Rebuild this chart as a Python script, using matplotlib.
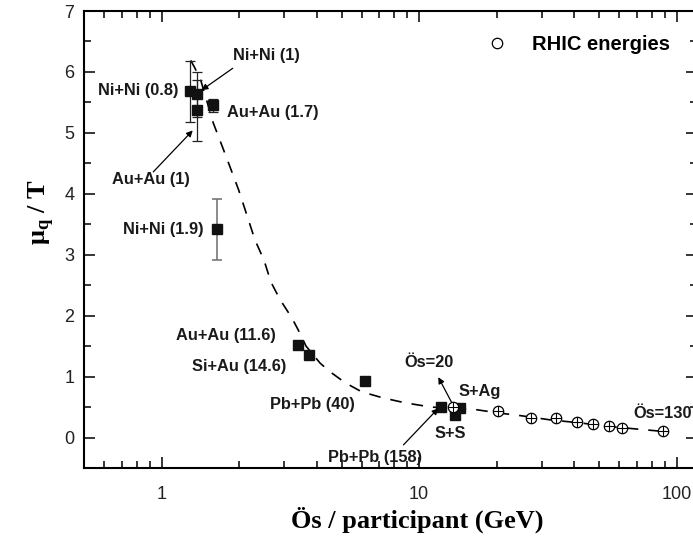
import numpy as np
import matplotlib
matplotlib.use('Agg')
import matplotlib.pyplot as plt
from matplotlib.ticker import MultipleLocator, FixedLocator, NullFormatter

# beam-energy points with error bars (SIS / AGS low energies)
low_x = [1.29, 1.37, 1.37, 1.58, 1.64]
low_y = [5.68, 5.63, 5.37, 5.45, 3.42]
low_err = [0.50, 0.37, 0.50, 0.11, 0.50]

# AGS / SPS points
high_x = [3.40, 3.73, 6.17, 12.2, 13.8, 14.4]
high_y = [1.52, 1.36, 0.93, 0.50, 0.37, 0.48]

# RHIC energies
rhic_x = [13.6, 20.2, 27.2, 34.1, 41.2, 47.5, 54.6, 61.6, 88.4]
rhic_y = [0.50, 0.44, 0.32, 0.32, 0.26, 0.22, 0.19, 0.16, 0.11]

# guide curve
fit_x = [1.298, 1.349, 1.423, 1.589, 1.713, 1.845, 1.994, 2.307, 2.50, 2.66,
         2.89, 3.21, 3.39, 3.64, 4.13, 4.51, 5.16, 5.99, 7.25, 8.82, 11.13,
         16.5, 20.6, 24.7, 32.3, 42.2, 55.2, 74.1, 88.6]
fit_y = [6.19, 6.06, 5.85, 5.16, 4.80, 4.44, 4.06, 3.24, 2.91, 2.55,
         2.26, 1.96, 1.77, 1.50, 1.22, 1.08, 0.90, 0.75, 0.65, 0.57, 0.50,
         0.46, 0.40, 0.36, 0.29, 0.24, 0.18, 0.13, 0.10]

sans = 'Liberation Sans'
serif = 'Liberation Serif'

fig = plt.figure(figsize=(6.93, 5.44), dpi=100)
ax = fig.add_axes([84 / 693, 76 / 544, 613 / 693, 457 / 544])

line, = ax.plot(fit_x, fit_y, color='black', lw=1.2, zorder=1)
line.set_dashes((7, 6))

ax.errorbar(low_x[:4], low_y[:4], yerr=low_err[:4], fmt='none', ecolor='#222222',
            elinewidth=0.9, capsize=3.5, capthick=0.9, zorder=2)
ax.errorbar(low_x[4:], low_y[4:], yerr=low_err[4:], fmt='none', ecolor='#777777',
            elinewidth=1.2, capsize=3.5, capthick=1.2, zorder=2)
ax.plot(low_x + high_x, low_y + high_y, 's', color='#111111', ms=7.2,
        ls='none', zorder=3)

ax.plot(rhic_x, rhic_y, 'o', mfc='white', mec='black', mew=0.9, ms=7.5,
        ls='none', zorder=4, label='RHIC energies')
ax.plot(rhic_x, rhic_y, '+', color='black', mew=0.8, ms=7.5, ls='none', zorder=5)

lab = dict(fontfamily=sans, fontweight='bold', fontsize=11.8, color='#1a1a1a')
ax.text(1.16, 5.70, 'Ni+Ni (0.8)', ha='right', va='center', **lab)
ax.text(1.90, 6.27, 'Ni+Ni (1)', ha='left', va='center', **lab)
ax.text(1.79, 5.33, 'Au+Au (1.7)', ha='left', va='center', **lab)
ax.text(0.91, 4.24, 'Au+Au (1)', ha='center', va='center', **lab)
ax.text(1.453, 3.42, 'Ni+Ni (1.9)', ha='right', va='center', **lab)
ax.text(2.79, 1.67, 'Au+Au (11.6)', ha='right', va='center', **lab)
ax.text(3.06, 1.16, 'Si+Au (14.6)', ha='right', va='center', **lab)
ax.text(5.64, 0.54, 'Pb+Pb (40)', ha='right', va='center', **lab)
ax.text(6.72, -0.33, 'Pb+Pb (158)', ha='center', va='center', **lab)
ax.text(10.94, 1.23, 'Ös=20', ha='center', va='center', **lab)
ax.text(14.18, 0.75, 'S+Ag', ha='left', va='center', **lab)
ax.text(13.2, 0.07, 'S+S', ha='center', va='center', **lab)
ax.text(67.8, 0.40, 'Ös=130', ha='left', va='center', **lab)

arrow = dict(arrowstyle='-|>', color='black', lw=0.9, mutation_scale=9,
             shrinkA=0, shrinkB=0)
for tail, head in [((1.89, 6.06), (1.43, 5.70)),
                   ((0.929, 4.36), (1.322, 5.04)),
                   ((8.7, -0.12), (11.88, 0.48)),
                   ((13.6, 0.52), (11.88, 0.99))]:
    ax.annotate('', xy=head, xytext=tail, arrowprops=arrow)

ax.set_xscale('log')
ax.set_xlim(0.5, 120)
ax.set_ylim(-0.5, 7)
ax.xaxis.set_major_locator(FixedLocator([1, 10, 100]))
ax.xaxis.set_major_formatter(matplotlib.ticker.FixedFormatter(['1', '10', '100']))
ax.xaxis.set_minor_locator(matplotlib.ticker.LogLocator(base=10, subs=np.arange(2, 10)))
ax.xaxis.set_minor_formatter(NullFormatter())
ax.yaxis.set_major_locator(MultipleLocator(1))
ax.yaxis.set_minor_locator(MultipleLocator(0.5))

for s in ax.spines.values():
    s.set_linewidth(1.5)
ax.tick_params(which='both', direction='in', top=True, right=True, width=1.1)
ax.tick_params(which='major', length=8)
ax.tick_params(which='minor', length=5)
ax.tick_params(axis='x', which='major', pad=13)
ax.tick_params(axis='y', which='major', pad=7)
for t in ax.get_xticklabels() + ax.get_yticklabels():
    t.set_fontfamily(sans)
    t.set_fontsize(13)
    t.set_color('#222222')

ax.set_xlabel('Ös / participant (GeV)', fontfamily=serif, fontweight='bold',
              fontsize=19)
ax.xaxis.set_label_coords(0.543, -0.085)
ax.set_ylabel('μ$_\\mathregular{q}$ / T', fontfamily=serif, fontweight='bold',
              fontsize=19)
ax.yaxis.set_label_coords(-0.045, 0.56)

ax.legend(loc='center left', bbox_to_anchor=(0.657, 0.926), frameon=False,
          borderaxespad=0, borderpad=0, handlelength=1, handletextpad=1.25,
          prop={'family': sans, 'weight': 'bold', 'size': 14.5})

fig.savefig('out.png', dpi=100)
